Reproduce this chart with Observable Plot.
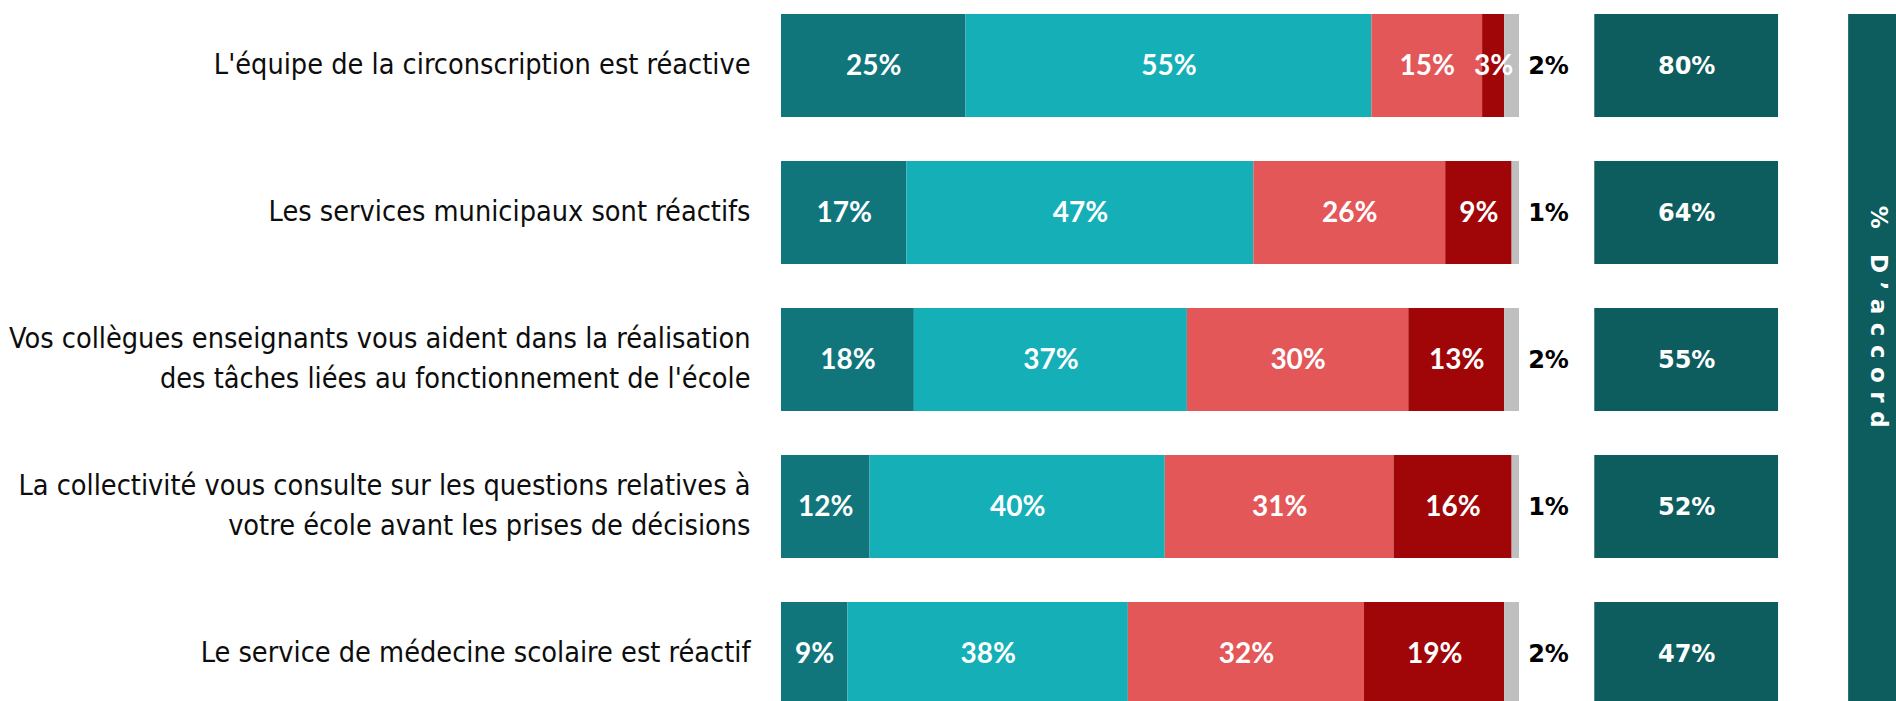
<!DOCTYPE html>
<html><head><meta charset="utf-8">
<script src="https://cdn.jsdelivr.net/npm/d3@7"></script>
<script src="https://cdn.jsdelivr.net/npm/@observablehq/plot@0.6"></script>
<style>body{margin:0;background:#fff;overflow:hidden}</style>
</head><body><div id="chart"></div>
<script>
const items = [
  "L'équipe de la circonscription est réactive",
  "Les services municipaux sont réactifs",
  "Vos collègues enseignants vous aident dans la réalisation\ndes tâches liées au fonctionnement de l'école",
  "La collectivité vous consulte sur les questions relatives à\nvotre école avant les prises de décisions",
  "Le service de médecine scolaire est réactif"
];
const series = ["Tout à fait d'accord", "Plutôt d'accord", "Plutôt pas d'accord", "Pas du tout d'accord", "NSP"];
const toutAFait = [25, 17, 18, 12, 9];
const plutot = [55, 47, 37, 40, 38];
const plutotPas = [15, 26, 30, 31, 32];
const pasDuTout = [3, 9, 13, 16, 19];
const nsp = [2, 1, 2, 1, 2];
const totalAccord = [80, 64, 55, 52, 47];
const bandTitle = "% D’accord";
const colors = ["#10767c", "#14afb7", "#e45759", "#a00608", "#bfbfbf"];

const valuesBySeries = [toutAFait, plutot, plutotPas, pasDuTout, nsp];
const rows = [];
items.forEach((item, i) => series.forEach((s, j) => rows.push({item, series: s, value: valuesBySeries[j][i]})));
const summary = items.map((item, i) => ({item, nsp: nsp[i], total: totalAccord[i]}));

const boxX1 = 110.2, boxX2 = 135.1, bandX1 = 144.6;

const bandMark = (index, scales, values, dims) => {
  const g = d3.create("svg:g");
  const x0 = scales.x(bandX1);
  const y0 = scales.y(items[0]);
  g.append("rect").attr("x", x0).attr("y", y0).attr("width", dims.width - x0).attr("height", dims.height - y0).attr("fill", "#0d5c5e");
  g.append("text")
    .attr("transform", `translate(${x0 + 29},${321}) rotate(90)`)
    .attr("text-anchor", "middle")
    .attr("dominant-baseline", "middle")
    .attr("fill", "white")
    .attr("font-family", "DejaVu Sans")
    .attr("font-weight", "bold")
    .attr("font-size", 23)
    .attr("letter-spacing", 8.5)
    .text(bandTitle);
  return g.node();
};

const chart = Plot.plot({
  width: 1896,
  height: 701,
  margin: 0,
  style: {background: "white"},
  x: {domain: [0, 100], range: [781, 1519], axis: null},
  y: {domain: items, range: [12, 706], paddingInner: 0.3, paddingOuter: 0, axis: null},
  color: {domain: series, range: colors},
  marks: [
    Plot.barX(rows, Plot.stackX({x: "value", y: "item", fill: "series", order: series})),
    Plot.text(rows, Plot.stackX({
      x: "value", y: "item", z: "series", order: series,
      filter: d => d.series !== "NSP",
      text: d => d.value + "%", fill: "white",
      fontFamily: "Lato", fontWeight: "bold", fontSize: 28
    })),
    Plot.text(summary, {x: 100, y: "item", dx: 29, text: d => d.nsp + "%", fill: "black",
      fontFamily: "DejaVu Sans", fontWeight: "bold", fontSize: 24}),
    Plot.barX(summary, {x1: boxX1, x2: boxX2, y: "item", fill: "#0d5c5e"}),
    Plot.text(summary, {x: (boxX1 + boxX2) / 2, y: "item", text: d => d.total + "%", fill: "white",
      fontFamily: "DejaVu Sans", fontWeight: "bold", fontSize: 24}),
    Plot.text(items, {x: 0, y: d => d, dx: -31, dy: -5, text: d => d, textAnchor: "end", fill: "#0d0d0d",
      fontFamily: "DejaVu Sans Condensed, sans-serif", fontSize: 28.6, lineHeight: 1.42}),
    bandMark
  ]
});
document.getElementById("chart").append(chart);
</script>
</body></html>
